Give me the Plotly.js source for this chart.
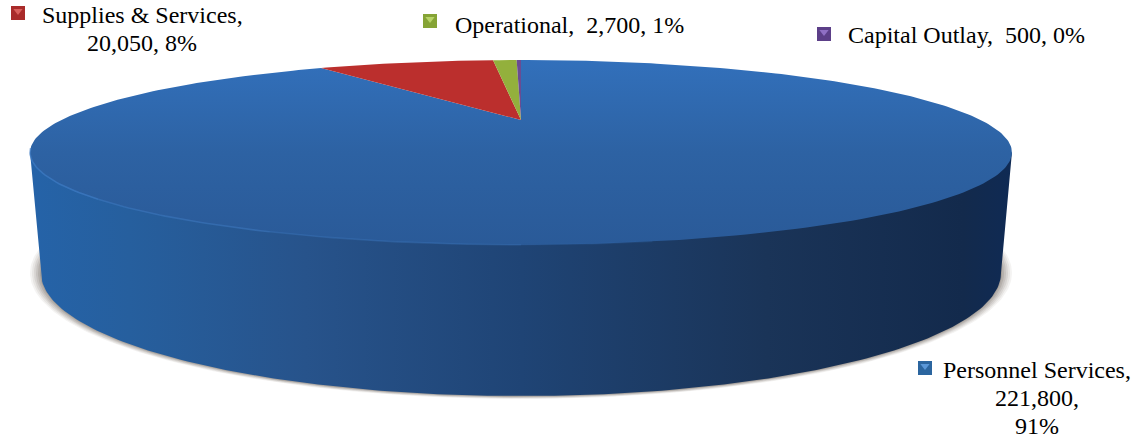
<!DOCTYPE html>
<html>
<head>
<meta charset="utf-8">
<script src="https://cdn.plot.ly/plotly-3.0.1.min.js"></script>
<style>html,body{margin:0;padding:0;background:#fff}#chart{width:1138px;height:440px}</style>
</head>
<body>
<div id="chart"></div>
<script>
// Budget split by expense class
const categories = ["Personnel Services", "Supplies & Services", "Operational", "Capital Outlay"];
const amounts = [221800, 20050, 2700, 500];

const topColors = [null, "#bb2f2d", "#93b03c", "#6a4c93"];
const swatchColors = ["#2b659f", "#a92b2a", "#86a436", "#5c3f88"];
const swatchGlints = ["#5a97d8", "#d9605c", "#b8d468", "#8f70c4"];

// Pixel placement of each label: swatch centre, text lines
const labelPlacement = [
  {sx: 925, sy: 368, anchor: "center", tx: 1037, lines: [370, 398, 426]},
  {sx: 18,  sy: 13,  anchor: "center", tx: 142,  lines: [15, 43]},
  {sx: 430, sy: 21,  anchor: "left",   tx: 453,  lines: [25]},
  {sx: 824, sy: 34,  anchor: "left",   tx: 846,  lines: [35]}
];

// Perspective disc: the first slice starts at 12 o'clock and runs clockwise
const apex = {x: 521, y: 120};
const disc = {a: 459.7, b: 81, k: 0.351};
const base = {cx: 521, cy: 273, a: 480, b: 123};

function rimPoint(turn) {
  const th = turn * 2 * Math.PI;
  const u = Math.sin(th), v = Math.cos(th);
  const w = 1 + disc.k * v;
  return [apex.x + disc.a * u / w, apex.y - disc.b * v / w];
}

function wedge(fromTurn, toTurn) {
  const steps = Math.max(2, Math.ceil((toTurn - fromTurn) * 360));
  const xs = [apex.x], ys = [apex.y];
  for (let i = 0; i <= steps; i++) {
    const p = rimPoint(fromTurn + (toTurn - fromTurn) * i / steps);
    xs.push(p[0]); ys.push(p[1]);
  }
  xs.push(apex.x); ys.push(apex.y);
  return {xs, ys};
}

function baseArc(a, b, cy, fromDeg, toDeg) {
  const xs = [], ys = [];
  const dir = toDeg < fromDeg ? -1 : 1;
  for (let d = fromDeg; dir * (toDeg - d) >= 0; d += dir) {
    const r = d * Math.PI / 180;
    xs.push(base.cx + a * Math.cos(r));
    ys.push(cy + b * Math.sin(r));
  }
  return {xs, ys};
}

const shapeDefaults = {type: "scatter", mode: "lines", fill: "toself", hoverinfo: "skip", line: {width: 0}};
const traces = [];

// Soft contact shadow under the disc
[[491, 126, 0.07], [489, 125.5, 0.09], [487, 125, 0.11], [485, 124.5, 0.13], [483, 124, 0.16], [481, 123.5, 0.2]].forEach(s => {
  const arc = baseArc(s[0], s[1], base.cy, 360, 0);
  traces.push({...shapeDefaults, x: arc.xs, y: arc.ys, fillcolor: `rgba(95,85,75,${s[2]})`});
});

// Side wall of the disc
const edgeShift = Math.asin(disc.k) / (2 * Math.PI);
const leftEdge = rimPoint(0.75 - edgeShift);
const rightEdge = rimPoint(0.25 + edgeShift);
const wall = baseArc(base.a, base.b, base.cy, 180, 0);
traces.push({
  ...shapeDefaults,
  x: [leftEdge[0], ...wall.xs, rightEdge[0], leftEdge[0]],
  y: [leftEdge[1], ...wall.ys, rightEdge[1], leftEdge[1]],
  fillcolor: "#1f4475",
  fillgradient: {
    type: "horizontal", start: 31, stop: 1012,
    colorscale: [[0, "#2563a8"], [0.1, "#265f9e"], [0.28, "#27538b"], [0.5, "#1f4475"], [0.75, "#1a3458"], [0.95, "#132a4c"], [1, "#0f2a54"]]
  }
});

// Top face, one wedge per category
const total = amounts.reduce((s, v) => s + v, 0);
let running = 0;
const turns = amounts.map(v => {
  const span = [running, running + v / total];
  running = span[1];
  return span;
});
amounts.forEach((v, i) => {
  const w = wedge(turns[i][0], turns[i][1]);
  const trace = {...shapeDefaults, name: categories[i], x: w.xs, y: w.ys};
  if (i === 0) {
    trace.fillcolor = "#2c5f9f";
    trace.fillgradient = {
      type: "vertical", start: 60, stop: 246,
      colorscale: [[0, "#3270bb"], [0.5, "#2d62a3"], [1, "#2a5a98"]]
    };
  } else {
    trace.fillcolor = topColors[i];
  }
  traces.push(trace);
});

// Light bevel along the front-left rim, fading toward the middle
const bevel = [[0.70, 0.62, 0.7], [0.62, 0.56, 0.5], [0.56, 0.50, 0.35], [0.50, 0.47, 0.15]];
bevel.forEach(seg => {
  const xs = [], ys = [];
  for (let i = 0; i <= 30; i++) {
    const p = rimPoint(seg[0] + (seg[1] - seg[0]) * i / 30);
    xs.push(p[0]); ys.push(p[1]);
  }
  traces.push({type: "scatter", mode: "lines", x: xs, y: ys, hoverinfo: "skip",
    opacity: seg[2], line: {color: "#3f7cc4", width: 1.6}});
});

// Legend-key swatches next to the labels, with a small glint on each
traces.push({
  type: "scatter", mode: "markers", hoverinfo: "skip",
  x: labelPlacement.map(p => p.sx), y: labelPlacement.map(p => p.sy),
  marker: {symbol: "square", size: 14, color: swatchColors, line: {width: 0}}
});
traces.push({
  type: "scatter", mode: "markers", hoverinfo: "skip",
  x: labelPlacement.map(p => p.sx), y: labelPlacement.map(p => p.sy - 2),
  marker: {symbol: "triangle-down", size: 8, color: swatchGlints, line: {width: 0}}
});

// Labels read "name, amount, share", laid out line by line
const labelLines = categories.map((name, i) => {
  const amt = amounts[i].toLocaleString("en-US");
  const pct = Math.round(amounts[i] / total * 100) + "%";
  if (labelPlacement[i].lines.length === 3) return [name + ",", amt + ",", pct];
  if (labelPlacement[i].lines.length === 2) return [name + ",", amt + ", " + pct];
  return [name + ",\u00a0\u00a0" + amt + ", " + pct];
});
const annotations = [];
labelLines.forEach((lines, i) => {
  const p = labelPlacement[i];
  lines.forEach((text, j) => annotations.push({
    x: p.tx, y: p.lines[j], xref: "x", yref: "y", text, showarrow: false,
    xanchor: p.anchor, yanchor: "middle",
    font: {family: "'Liberation Serif', 'Times New Roman', serif", size: 24, color: "#000"}
  }));
});

const layout = {
  width: 1138, height: 440,
  margin: {l: 0, r: 0, t: 0, b: 0},
  paper_bgcolor: "#fff", plot_bgcolor: "#fff",
  showlegend: false, hovermode: false,
  xaxis: {range: [0, 1138], visible: false, fixedrange: true},
  yaxis: {range: [440, 0], visible: false, fixedrange: true},
  annotations
};
Plotly.newPlot("chart", traces, layout, {displayModeBar: false, staticPlot: true});
</script>
</body>
</html>
